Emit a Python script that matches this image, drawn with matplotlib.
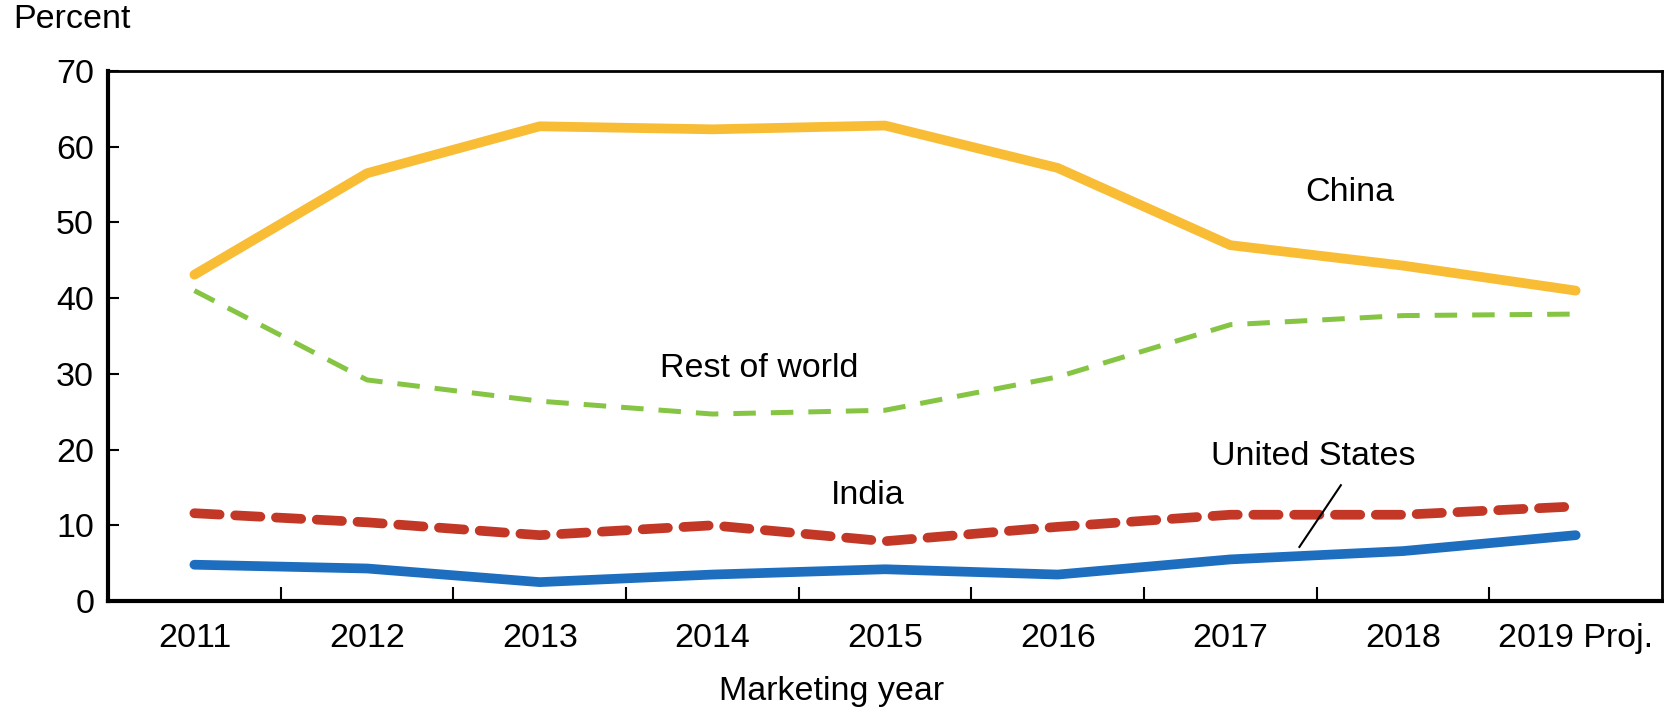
import numpy as np
import matplotlib.pyplot as plt

plt.rcParams["font.family"] = ["Liberation Sans", "DejaVu Sans"]

years = ["2011", "2012", "2013", "2014", "2015", "2016", "2017", "2018", "2019 Proj."]
china = [43.1, 56.5, 62.7, 62.3, 62.8, 57.2, 47.0, 44.3, 41.0]
rest_of_world = [41.0, 29.2, 26.4, 24.7, 25.2, 29.6, 36.5, 37.7, 37.9]
india = [11.6, 10.4, 8.7, 10.0, 7.9, 9.8, 11.4, 11.4, 12.5]
united_states = [4.8, 4.3, 2.5, 3.5, 4.2, 3.5, 5.5, 6.6, 8.7]

x = np.arange(len(years))
fs = 24.5

fig = plt.figure(figsize=(16.65, 7.13), dpi=100)
ax = fig.add_axes([0.0649, 0.157, 0.9333, 0.7434])

ax.plot(x, china, color="#F8BC35", linewidth=7, solid_capstyle="round", solid_joinstyle="round")
ax.plot(x, rest_of_world, color="#86C543", linewidth=3.6, linestyle=(0, (4.5, 3.0)),
        dash_capstyle="butt")
ax.plot(x, india, color="#C23726", linewidth=7, linestyle=(0, (2.6, 1.6)),
        dash_capstyle="round")
ax.plot(x, united_states, color="#1E6EC0", linewidth=7, solid_capstyle="round", solid_joinstyle="round")

ax.set_xlim(-0.5, len(years) - 0.5)
ax.set_ylim(0, 70)
ax.set_yticks(np.arange(0, 71, 10))
ax.set_xticks(x)
ax.set_xticklabels(years)
ax.set_xticks(x[:-1] + 0.5, minor=True)

ax.tick_params(axis="y", direction="in", length=8, width=1.5, labelsize=fs, pad=10)
ax.tick_params(axis="x", which="major", length=0, labelsize=fs, pad=16)
ax.tick_params(axis="x", which="minor", direction="in", length=10, width=1.5)

for side in ["left", "bottom"]:
    ax.spines[side].set_linewidth(3)
for side in ["top", "right"]:
    ax.spines[side].set_linewidth(2)

# series labels
ax.text(6.69, 53.9, "China", fontsize=fs, ha="center", va="center")
ax.text(3.27, 30.7, "Rest of world", fontsize=fs, ha="center", va="center")
ax.text(3.90, 13.9, "India", fontsize=fs, ha="center", va="center")
ax.text(6.48, 19.1, "United States", fontsize=fs, ha="center", va="center")
ax.plot([6.40, 6.64], [7.15, 15.3], color="black", linewidth=1.5)

fig.text(0.0078, 0.973, "Percent", fontsize=fs, ha="left", va="center")
fig.text(0.4997, 0.03, "Marketing year", fontsize=fs, ha="center", va="center")

fig.savefig("out.png", dpi=100)
